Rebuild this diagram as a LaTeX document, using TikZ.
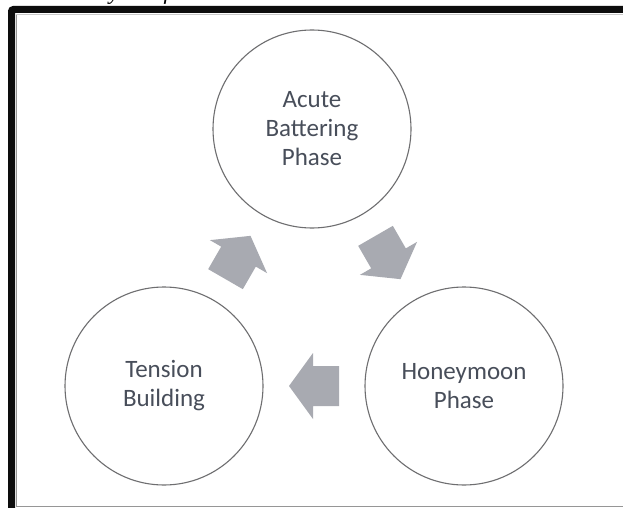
\documentclass[tikz,border=0pt]{standalone}
\usepackage{fontspec}
\setmainfont{Carlito}
\newfontfamily\capfont{Liberation Serif}
\usetikzlibrary{calc}

\definecolor{circgray}{RGB}{110,110,112}
\definecolor{labelgray}{RGB}{72,78,90}
\definecolor{arrowgray}{RGB}{168,170,177}
\definecolor{rulegray}{RGB}{150,150,150}

\begin{document}
\begin{tikzpicture}[x=1pt,y=-1pt,
  phase/.style={circle, draw=circgray, line width=1.1pt, fill=white,
    minimum size=198pt, inner sep=0pt, text=labelgray, align=center,
    font=\fontsize{25}{29}\selectfont},
  cyclearrow/.pic={
    \fill[arrowgray] (-25,-20) -- (1,-20) -- (1,-33) -- (25,0)
      -- (1,33) -- (1,20) -- (-25,20) -- cycle;
  }
]
\useasboundingbox (0,0) rectangle (623,508);
\clip (0,0) rectangle (623,508);
\fill[white] (0,0) rectangle (623,508);

% caption running off the top edge
\node[anchor=base west, inner sep=0pt, font=\capfont\itshape\fontsize{23}{23}\selectfont]
  (caption) at (10,0) {Walker's Cycle of Violence};

% frame: thin inner rule and heavy outer edge
\draw[rulegray, line width=0.8pt] (16,14) -- (16,506) -- (623,506);
\draw[rulegray!50, line width=0.8pt] (16,14) -- (623,14);
\draw[black!95, line width=7pt, rounded corners=2pt] (11.5,512) -- (11.5,9.5) -- (630,9.5);

% the three phases
\node[phase] (acute) at (312,129) {Acute\\Battering\\Phase};
\node[phase] (tension) at (164,386) {Tension\\Building};
\node[phase] (honey) at (464,386) {Honeymoon\\Phase};

% block arrows between the phases
\pic[rotate=60]  (up)    at ($(tension)!0.5!(acute)$) {cyclearrow};
\pic[rotate=-60] (down)  at ($(acute)!0.5!(honey)$)   {cyclearrow};
\pic[rotate=180] (back)  at ($(honey)!0.5!(tension)$) {cyclearrow};
\end{tikzpicture}
\end{document}
